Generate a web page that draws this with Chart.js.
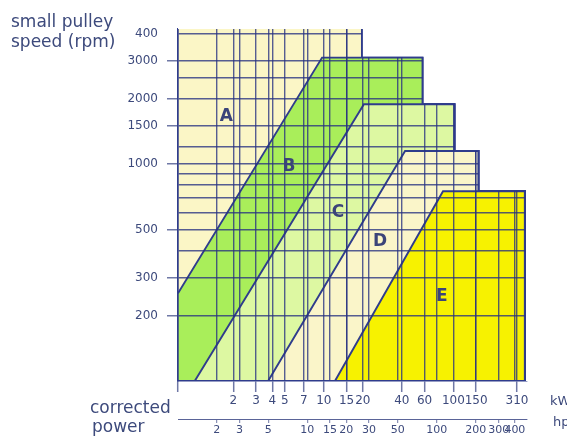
<!DOCTYPE html>
<html>
<head>
<meta charset="utf-8">
<script src="https://cdn.jsdelivr.net/npm/chart.js@4.4.1/dist/chart.umd.min.js"></script>
<style>
  html, body { margin: 0; padding: 0; background: #fff; }
  #wrap { width: 567px; height: 437px; }
</style>
</head>
<body>
<div id="wrap"><canvas id="chart"></canvas></div>
<script>
const sections = ['A', 'B', 'C', 'D', 'E'];
const sectionColors = ['#fbf6c6', '#a9ee5a', '#ddf8a2', '#faf5c9', '#f7f200'];

// chart ranges: corrected power (kW) and small pulley speed (rpm)
const kwMin = 0.75, kwMax = 370;
const rpmMin = 100, rpmMax = 4200;
const KW_TO_HP = 1.341;

// each section: left edge runs from (edgeFromKw, edgeFromRpm) up to (edgeToKw, topRpm),
// then along its top to rightKw and down the staircase
const topRpm      = [4200, 3100, 1890, 1150, 750];
const rightKw     = [19.7, 57.8, 102, 156, 356];
const edgeFromKw  = [0.75, 0.75, 1.01, 3.72, 12.2];
const edgeFromRpm = [4200, 254, 100, 100, 100];
const edgeToKw    = [0.75, 9.7, 20.4, 42.4, 83.2];

// where the section letters sit
const labelKw  = [1.77, 5.4, 12.9, 27.2, 81.5];
const labelRpm = [1650, 970, 600, 440, 246];

const kwTicks = [2, 3, 4, 5, 7, 10, 15, 20, 40, 60, 100, 150, 310];
const hpTicks = [2, 3, 5, 10, 15, 20, 30, 50, 100, 200, 300, 400];
const rpmTicks = [200, 300, 500, 1000, 1500, 2000, 3000, 4000];
const rpmTickLabels = ['200', '300', '500', '1000', '1500', '2000', '3000', '400'];
const rpmGrid = [400, 600, 700, 800, 900, 1200, 2500];

const ink = '#3d4a7c';
const lineBlue = '#2f3c8c';
const gridColor = 'rgba(40, 50, 130, 0.78)';
const tickMark = '#6f78a6';

Chart.defaults.font.family = '"DejaVu Sans", sans-serif';

function sectionPoints(i) {
  const pts = [{x: edgeFromKw[i], y: edgeFromRpm[i]}, {x: edgeToKw[i], y: topRpm[i]}];
  for (let j = i; j < sections.length; j++) {
    pts.push({x: rightKw[j], y: topRpm[j]});
    pts.push({x: rightKw[j], y: j + 1 < sections.length ? topRpm[j + 1] : rpmMin});
  }
  return pts;
}

const datasets = sections.map((s, i) => ({
  label: s,
  data: sectionPoints(i),
  backgroundColor: sectionColors[i],
  borderColor: lineBlue,
  borderWidth: 1.9,
  fill: 'start',
  pointRadius: 0,
  tension: 0,
  order: sections.length - i,
  segment: {
    // no line along the top of section A
    borderColor: c => (i === 0 && c.p1DataIndex <= 2) ? 'rgba(0,0,0,0)' : undefined
  }
}));

// grid only inside the coloured staircase, plus text
const overlay = {
  id: 'overlay',
  afterDatasetsDraw(chart) {
    const {ctx, chartArea} = chart;
    const x = chart.scales.x, y = chart.scales.y;
    const outline = sectionPoints(0);
    ctx.save();
    ctx.beginPath();
    ctx.moveTo(chartArea.left, chartArea.bottom);
    outline.forEach(p => ctx.lineTo(x.getPixelForValue(p.x), y.getPixelForValue(p.y)));
    ctx.closePath();
    ctx.rect(0, 0, chartArea.left, chart.height);
    ctx.rect(0, chartArea.bottom, chart.width, chart.height - chartArea.bottom);
    ctx.clip();
  },
  afterDraw(chart) {
    const ctx = chart.ctx;
    ctx.restore();
    const x = chart.scales.x, y = chart.scales.y;

    ctx.save();
    ctx.fillStyle = '#3b4479';
    ctx.font = 'bold 17px "DejaVu Sans"';
    ctx.textAlign = 'center';
    ctx.textBaseline = 'middle';
    sections.forEach((s, i) => {
      ctx.fillText(s, x.getPixelForValue(labelKw[i]), y.getPixelForValue(labelRpm[i]));
    });

    ctx.fillStyle = ink;
    ctx.textAlign = 'left';
    ctx.textBaseline = 'alphabetic';
    ctx.font = '17px "DejaVu Sans"';
    ctx.fillText('small pulley', 11, 27);
    ctx.fillText('speed (rpm)', 11, 47);
    ctx.fillText('corrected', 90, 413);
    ctx.fillText('power', 92, 432);
    ctx.font = '13px "DejaVu Sans"';
    ctx.fillText('kW', 550, 405);
    ctx.fillText('hp', 553, 426);
    ctx.restore();
  }
};

new Chart(document.getElementById('chart'), {
  type: 'line',
  data: { datasets: datasets },
  options: {
    responsive: true,
    maintainAspectRatio: false,
    animation: false,
    layout: { padding: { top: 29, right: 40, left: 0, bottom: 0 } },
    plugins: {
      legend: { display: false },
      tooltip: { enabled: false }
    },
    scales: {
      x: {
        type: 'logarithmic',
        position: 'bottom',
        weight: 0,
        min: kwMin,
        max: kwMax,
        bounds: 'data',
        afterBuildTicks: s => { s.ticks = [kwMin, ...kwTicks].map(v => ({value: v})); },
        afterFit: s => { s.height = 38; },
        ticks: {
          autoSkip: false,
          maxRotation: 0,
          minRotation: 0,
          padding: 2,
          color: ink,
          font: { size: 12 },
          callback: v => kwTicks.includes(v) ? String(v) : ''
        },
        grid: { z: 1, color: gridColor, lineWidth: 1.4, tickLength: 11, tickColor: tickMark, tickWidth: 1.5 },
        border: { z: 2, color: lineBlue, width: 1.6 }
      },
      hp: {
        type: 'logarithmic',
        position: 'bottom',
        weight: 1,
        min: kwMin * KW_TO_HP,
        max: kwMax * KW_TO_HP,
        bounds: 'data',
        afterBuildTicks: s => { s.ticks = hpTicks.map(v => ({value: v})); },
        afterFit: s => { s.height = 18; },
        ticks: {
          autoSkip: false,
          maxRotation: 0,
          minRotation: 0,
          padding: 1,
          color: ink,
          font: { size: 11 },
          callback: v => String(v)
        },
        grid: { z: 1, color: gridColor, lineWidth: 1.4, tickLength: 4, tickColor: tickMark, tickWidth: 1 },
        border: { z: 2, color: '#5a6498', width: 1 }
      },
      y: {
        type: 'logarithmic',
        position: 'left',
        min: rpmMin,
        max: rpmMax,
        bounds: 'data',
        afterBuildTicks: s => {
          s.ticks = [...rpmGrid, ...rpmTicks].sort((a, b) => a - b).map(v => ({value: v}));
        },
        afterFit: s => { s.width = 178; },
        ticks: {
          autoSkip: false,
          padding: 9,
          color: ink,
          font: { size: 12 },
          callback: v => {
            const k = rpmTicks.indexOf(v);
            return k < 0 ? '' : rpmTickLabels[k];
          }
        },
        grid: {
          z: 1,
          color: gridColor,
          lineWidth: 1.4,
          tickLength: 11,
          tickWidth: 1.5,
          tickColor: c => {
            const v = c.tick ? c.tick.value : null;
            return rpmTicks.includes(v) && v < rpmTicks[rpmTicks.length - 1] ? tickMark : 'rgba(0,0,0,0)';
          }
        },
        border: { z: 2, color: lineBlue, width: 1.6 }
      }
    }
  },
  plugins: [overlay]
});
</script>
</body>
</html>
